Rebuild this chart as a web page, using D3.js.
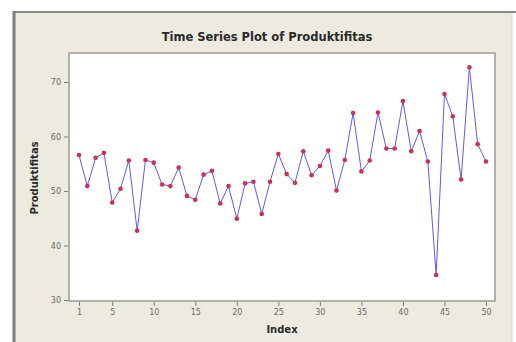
<!DOCTYPE html>
<html><head><meta charset="utf-8">
<script src="https://cdn.jsdelivr.net/npm/d3@7"></script>
<style>body{margin:0;background:#fff}svg{display:block}</style>
</head><body>
<script>
const indexValues = d3.range(1, 51);
const produktifitas = [56.6,50.9,56.1,57.0,47.9,50.4,55.6,42.7,55.7,55.2,
  51.2,50.9,54.3,49.1,48.4,53.0,53.7,47.7,50.9,44.9,
  51.4,51.7,45.8,51.7,56.8,53.1,51.5,57.3,52.9,54.6,
  57.4,50.1,55.7,64.3,53.6,55.6,64.4,57.8,57.8,66.5,
  57.3,61.0,55.4,34.6,67.8,63.7,52.1,72.7,58.6,55.4];
const xTicks = [1,5,10,15,20,25,30,35,40,45,50];
const yTicks = [30,40,50,60,70];
const titleText = "Time Series Plot of Produktifitas";
const xLabel = "Index", yLabel = "Produktifitas";

const W = 516, H = 342;
const svg = d3.select("body").append("svg").attr("width", W).attr("height", H);
svg.append("rect").attr("width", W).attr("height", H).attr("fill", "#fff");
// outer panel
svg.append("rect").attr("x", 13).attr("y", 12).attr("width", 499).attr("height", 340)
  .attr("fill", "#edeae0");
svg.append("line").attr("x1", 13).attr("x2", 516).attr("y1", 12).attr("y2", 12).attr("stroke", "#8a8a86").attr("stroke-width", 2);
svg.append("line").attr("x1", 14).attr("x2", 14).attr("y1", 11).attr("y2", H).attr("stroke", "#7d7d7a").attr("stroke-width", 3);
svg.append("line").attr("x1", 512).attr("x2", 512).attr("y1", 13).attr("y2", H).attr("stroke", "#d8d6cc").attr("stroke-width", 1);

const plot = {l: 69, t: 53, r: 495, b: 301};
svg.append("rect").attr("x", plot.l).attr("y", plot.t).attr("width", plot.r - plot.l).attr("height", plot.b - plot.t)
  .attr("fill", "#fff").attr("stroke", "#9a9a96").attr("stroke-width", 1.5);

const x = d3.scaleLinear().domain([1, 50]).range([79, 486]);
const y = d3.scaleLinear().domain([30, 70]).range([300, 82]);

const xAxis = svg.append("g").attr("transform", `translate(0,${plot.b + 1})`)
  .call(d3.axisBottom(x).tickValues(xTicks).tickSize(4).tickPadding(3));
const yAxis = svg.append("g").attr("transform", `translate(${plot.l - 1},0)`)
  .call(d3.axisLeft(y).tickValues(yTicks).tickSize(4).tickPadding(3));
[xAxis, yAxis].forEach(a => {
  a.select(".domain").remove();
  a.selectAll(".tick line").attr("stroke", "#7a7a7a");
  a.selectAll(".tick text").attr("fill", "#6a6a6a").attr("font-family", "DejaVu Sans, sans-serif").attr("font-size", 8);
});

const line = d3.line().x((d, i) => x(indexValues[i])).y(d => y(d));
svg.append("path").datum(produktifitas).attr("d", line)
  .attr("fill", "none").attr("stroke", "#5c5cf0").attr("stroke-width", 1);
svg.append("g").selectAll("circle").data(produktifitas).join("circle")
  .attr("cx", (d, i) => x(indexValues[i])).attr("cy", d => y(d)).attr("r", 2.3)
  .attr("fill", "#cc2f5a");

svg.append("text").attr("x", 267).attr("y", 41).attr("text-anchor", "middle")
  .attr("font-family", "DejaVu Sans, sans-serif").attr("font-weight", "bold").attr("font-size", 11.5)
  .attr("fill", "#2a2a2a").text(titleText);
svg.append("text").attr("x", 282).attr("y", 333).attr("text-anchor", "middle")
  .attr("font-family", "DejaVu Sans, sans-serif").attr("font-weight", "bold").attr("font-size", 10)
  .attr("fill", "#2a2a2a").text(xLabel);
svg.append("text").attr("transform", "translate(38,178) rotate(-90)").attr("text-anchor", "middle")
  .attr("font-family", "DejaVu Sans, sans-serif").attr("font-weight", "bold").attr("font-size", 10)
  .attr("fill", "#2a2a2a").text(yLabel);
</script>
</body></html>
